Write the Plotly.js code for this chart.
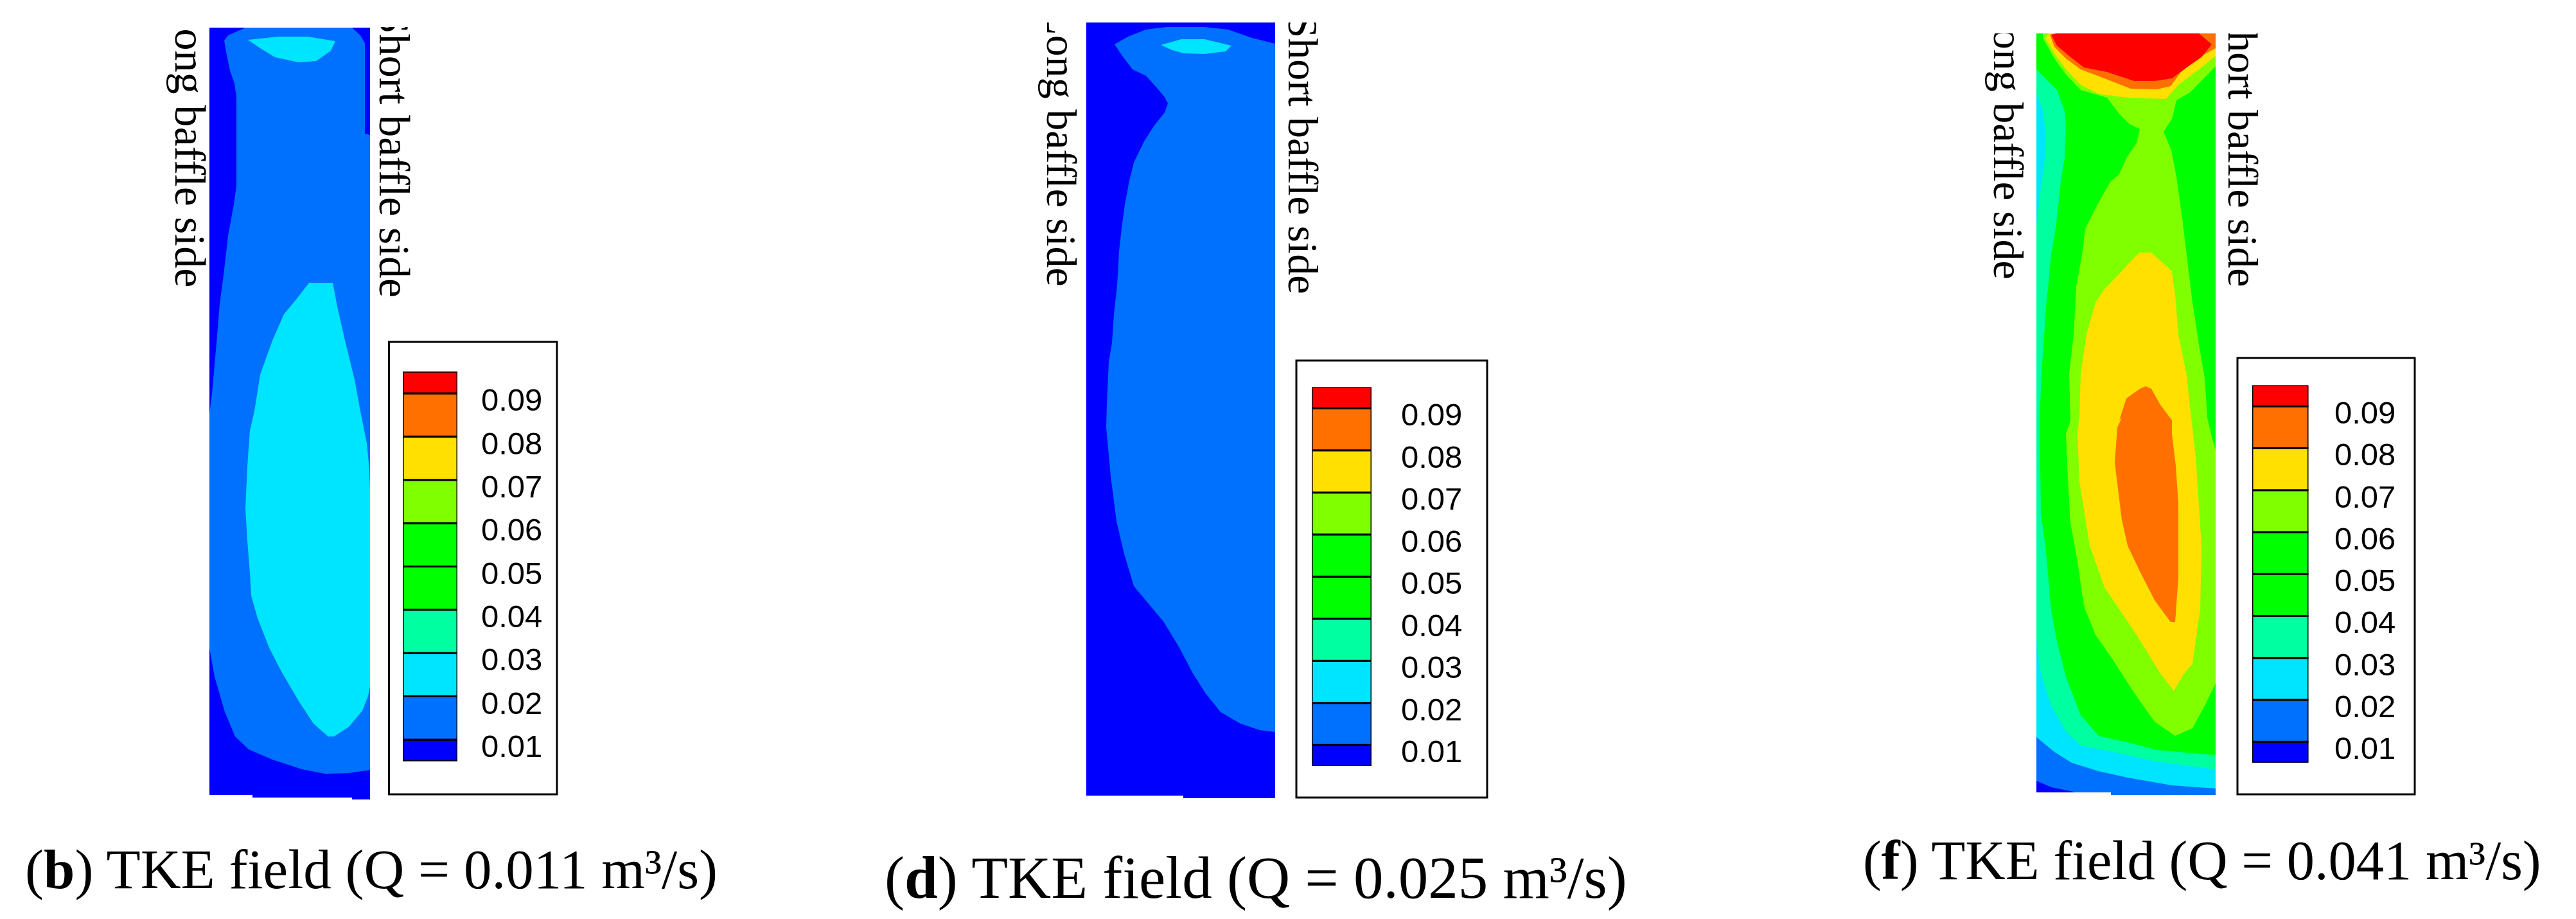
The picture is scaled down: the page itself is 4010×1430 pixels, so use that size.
<!DOCTYPE html>
<html>
<head>
<meta charset="utf-8">
<script src="https://cdn.plot.ly/plotly-3.0.1.min.js"></script>
<style>
html,body{margin:0;padding:0;background:#fff;width:4010px;height:1430px;overflow:hidden}
#chart{position:absolute;left:0;top:0;width:4010px;height:1430px}
.cover{position:absolute;background:#fff;top:0;z-index:5}
</style>
</head>
<body>
<div id="chart"></div>
<div class="cover" style="left:240px;width:420px;height:42px"></div>
<div class="cover" style="left:1600px;width:480px;height:35px"></div>
<div class="cover" style="left:3070px;width:460px;height:52px"></div>
<script>
// Colour scale: TKE levels, band edges and tick labels
const tkeTicks = [0.01,0.02,0.03,0.04,0.05,0.06,0.07,0.08,0.09];
const tkeLabels = ['0.01','0.02','0.03','0.04','0.05','0.06','0.07','0.08','0.09'];
const bandEdges = [0.0065,0.0115,0.0215,0.0315,0.0415,0.0515,0.0615,0.0715,0.0815,0.0915,0.0965];
const bandColors = ['#0000ff','#0070ff','#00e5ff','#00ffa0','#00ff00','#00ff00','#80ff00','#ffe000','#ff7000','#ff0000'];
const DB=bandColors[0],BL=bandColors[1],CY=bandColors[2],SP=bandColors[3],GR=bandColors[4],YG=bandColors[6],YE=bandColors[7],OR=bandColors[8],RE=bandColors[9];

// Panel b: Q = 0.011 m3/s, contour outlines
const bBaseX=[326,576,576,548,548,393,393,326];
const bBaseY=[43,43,1244,1244,1241,1241,1237,1237];
const bL1X=[382,355,349,352,358,365,368,368,364,355,348,342,337,330,326,326,334,350,366,387,424,470,506,543,576,576,568,568,561,548];
const bL1Y=[43,55,63,81,110,130,151,289,318,367,428,473,534,612,644,1008,1053,1108,1146,1166,1182,1197,1204,1203,1198,210,208,67,55,43];
const bL2aX=[386,433,479,522,515,492,465,428,405];
const bL2aY=[62,57,57,64,79,95,97,89,75];
const bL2bX=[481,518,525,538,552,561,571,575,576,576,573,564,543,520,511,488,465,437,419,401,391,389,385,382,385,389,396,405,424,442,465];
const bL2bY=[440,440,477,534,591,640,690,731,761,1068,1083,1106,1131,1146,1146,1126,1091,1043,1008,962,927,892,841,791,726,670,640,583,530,489,461];

// Panel d: Q = 0.025 m3/s, contour outlines
const dBaseX=[1691,1985,1985,1842,1842,1691];
const dBaseY=[35,35,1242,1242,1238,1238];
const dL1X=[1735,1756,1784,1816,1875,1912,1949,1985,1985,1961,1931,1900,1876,1857,1836,1811,1790,1765,1750,1738,1729,1722,1723,1726,1731,1734,1739,1742,1746,1751,1758,1765,1781,1797,1813,1818,1813,1802,1784,1763,1747];
const dL1Y=[69,57,46,42,42,46,59,68,1139,1136,1126,1108,1078,1048,1008,967,942,912,862,811,741,665,628,563,534,489,444,391,355,318,281,253,220,195,175,161,151,138,118,108,87];
const dL2X=[1807,1839,1875,1917,1908,1875,1843,1825];
const dL2Y=[70,61,61,71,80,84,83,78];

// Panel f: Q = 0.041 m3/s, contour outlines
const fBaseX=[3170,3449,3449,3286,3286,3170];
const fBaseY=[52,52,1237,1237,1233,1233];
const fDarkX=[3170,3193,3228,3228,3170];
const fDarkY=[1215,1225,1232,1233,1233];
const fCyanX=[3170,3449,3449,3381,3312,3267,3225,3198,3170];
const fCyanY=[52,52,1227,1222,1210,1200,1187,1170,1147];
const fSpringX=[3170,3170,3179,3185,3184,3177,3170,3170,3177,3193,3216,3239,3290,3358,3449,3449];
const fSpringY=[52,144,169,205,242,291,348,998,1048,1098,1138,1160,1170,1185,1197,52];
const fGreenX=[3170,3170,3182,3202,3214,3216,3214,3209,3200,3193,3185,3178,3175,3177,3184,3193,3202,3216,3239,3267,3312,3358,3449,3449];
const fGreenY=[52,108,120,140,173,193,246,275,356,397,479,581,654,799,849,948,998,1053,1113,1145,1155,1167,1175,52];
const fYgX=[3239,3280,3299,3315,3331,3326,3310,3299,3285,3262,3246,3241,3232,3228,3221,3223,3216,3218,3223,3234,3244,3262,3290,3322,3354,3386,3413,3432,3449,3449,3443,3436,3432,3423,3413,3404,3397,3388,3380,3368,3381,3388,3409,3449,3449,3180,3180,3198,3216];
const fYgY=[140,152,177,193,201,222,246,271,283,324,356,397,446,520,581,654,675,725,814,874,943,988,1028,1078,1123,1145,1133,1098,1063,700,680,650,589,536,471,397,340,275,234,205,185,156,144,103,52,52,59,91,116];
const fYeMidX=[3331,3349,3381,3386,3391,3404,3411,3418,3427,3425,3413,3400,3384,3363,3326,3299,3276,3253,3237,3234,3237,3239,3248,3262,3276,3299,3322];
const fYeMidY=[393,393,422,459,520,585,650,710,849,948,1033,1048,1075,1048,988,948,914,849,749,675,650,581,520,471,450,426,401];
const fOrMidX=[3331,3340,3349,3363,3381,3381,3387,3391,3391,3386,3379,3354,3331,3312,3303,3296,3292,3296,3303,3299,3310];
const fOrMidY=[605,601,605,630,654,675,725,784,899,968,968,934,889,849,809,749,720,665,650,654,620];
const fYeTopX=[3184,3198,3216,3239,3267,3312,3372,3391,3423,3449,3449,3190];
const fYeTopY=[59,83,108,132,146,152,154,132,108,87,52,52];
const fOrTopX=[3191,3198,3216,3239,3276,3317,3358,3379,3395,3427,3449,3449,3200];
const fOrTopY=[54,73,91,108,122,138,139,134,112,87,75,52,52];
const fReTopX=[3193,3202,3423,3443,3427,3404,3381,3354,3322,3280,3244,3221,3202];
const fReTopY=[54,52,52,69,89,105,122,126,126,112,105,87,71];

const W=4010,H=1430;
const panels=[
 {xr:[326,576],yr:[1245,43],
  shapes:[[bBaseX,bBaseY,DB],[bL1X,bL1Y,BL],[bL2aX,bL2aY,CY],[bL2bX,bL2bY,CY]],
  bar:[627,712],tick01:1161,tick09:622,tickX:748,frame:[605.5,532,867,1236]},
 {xr:[1691,1985],yr:[1245,35],
  shapes:[[dBaseX,dBaseY,DB],[dL1X,dL1Y,BL],[dL2X,dL2Y,CY]],
  bar:[2042,2135],tick01:1169,tick09:645,tickX:2180,frame:[2018,561,2315,1241]},
 {xr:[3170,3449],yr:[1245,52],
  shapes:[[fBaseX,fBaseY,BL],[fDarkX,fDarkY,DB],[fCyanX,fCyanY,CY],[fSpringX,fSpringY,SP],[fGreenX,fGreenY,GR],[fYgX,fYgY,YG],[fYeMidX,fYeMidY,YE],[fOrMidX,fOrMidY,OR],[fYeTopX,fYeTopY,YE],[fOrTopX,fOrTopY,OR],[fReTopX,fReTopY,RE]],
  bar:[3506,3593.5],tick01:1164,tick09:642,tickX:3633,frame:[3483,557,3759,1236]}
];
const traces=[],layout={width:W,height:H,margin:{l:0,r:0,t:0,b:0},paper_bgcolor:'#fff',plot_bgcolor:'rgba(0,0,0,0)',
  showlegend:false,barmode:'overlay',shapes:[],annotations:[],hovermode:false,autosize:false};
const hidden={visible:false,fixedrange:true};
panels.forEach((p,i)=>{
  const n=i+1, xa=n===1?'xaxis':'xaxis'+n, ya=n===1?'yaxis':'yaxis'+n, xk=n===1?'x':'x'+n, yk=n===1?'y':'y'+n;
  layout[xa]=Object.assign({},hidden,{domain:[p.xr[0]/W,p.xr[1]/W],range:p.xr,anchor:yk});
  layout[ya]=Object.assign({},hidden,{domain:[1-p.yr[0]/H,1-p.yr[1]/H],range:p.yr,anchor:xk});
  p.shapes.forEach(s=>traces.push({type:'scatter',mode:'lines',x:s[0],y:s[1],xaxis:xk,yaxis:yk,fill:'toself',fillcolor:s[2],line:{width:0,color:s[2]},hoverinfo:'skip'}));
  // colour key: stacked bar on its own value axis
  const m=n+3, bx='xaxis'+m, by='yaxis'+m, bxk='x'+m, byk='y'+m;
  const pxPer=(p.tick01-p.tick09)/0.08, yOf=v=>p.tick01-(v-0.01)*pxPer;
  const yLo=yOf(bandEdges[0]), yHi=yOf(bandEdges[bandEdges.length-1]);
  layout[bx]=Object.assign({},hidden,{domain:[p.bar[0]/W,p.bar[1]/W],range:[-0.5,0.5],anchor:byk});
  layout[by]={fixedrange:true,domain:[1-yLo/H,1-yHi/H],range:[bandEdges[0],bandEdges[bandEdges.length-1]],anchor:'free',position:p.tickX/W,side:'right',
    showgrid:false,zeroline:false,showline:false,ticks:'',tickmode:'array',tickvals:tkeTicks,ticktext:tkeLabels,
    tickfont:{family:'"Liberation Sans",Arial,sans-serif',size:49,color:'#000'}};
  traces.push({type:'bar',x:bandColors.map(()=>0),base:bandEdges.slice(0,-1),y:bandEdges.slice(1).map((e,k)=>e-bandEdges[k]),
    width:1,xaxis:bxk,yaxis:byk,cliponaxis:false,marker:{color:bandColors,line:{color:'#000',width:3}},hoverinfo:'skip'});
  layout.shapes.push({type:'rect',xref:'paper',yref:'paper',x0:p.frame[0]/W,x1:p.frame[2]/W,y0:1-p.frame[3]/H,y1:1-p.frame[1]/H,line:{color:'#000',width:3},fillcolor:'rgba(0,0,0,0)',layer:'below'});
});
// vertical side labels
const serif='"Liberation Serif","Times New Roman",serif';
function side(text,xc,yb,size){layout.annotations.push({text:text,textangle:90,xref:'paper',yref:'paper',x:xc/W,y:1-yb/H,xanchor:'center',yanchor:'bottom',showarrow:false,font:{family:serif,size:size,color:'#000'}});}
side('Long baffle side',296,449,68);side('Short baffle side',614,465,68);
side('Long baffle side',1652,447,66);side('Short baffle side',2028,459,66);
side('Long baffle side',3126,436,66);side('Short baffle side',3491,448,66);
// captions
function cap(l,q,x,yc,size){layout.annotations.push({text:'(<b>'+l+'</b>) TKE field (Q = '+q+' m\u00b3/s)',xref:'paper',yref:'paper',x:x/W,y:1-yc/H,xanchor:'left',yanchor:'middle',showarrow:false,font:{family:serif,size:size,color:'#000'}});}
cap('b','0.011',37,1352,87);cap('d','0.025',1375,1365,93);cap('f','0.041',2898,1339,86.5);
Plotly.newPlot('chart',traces,layout,{staticPlot:true,displayModeBar:false});
</script>
</body>
</html>
